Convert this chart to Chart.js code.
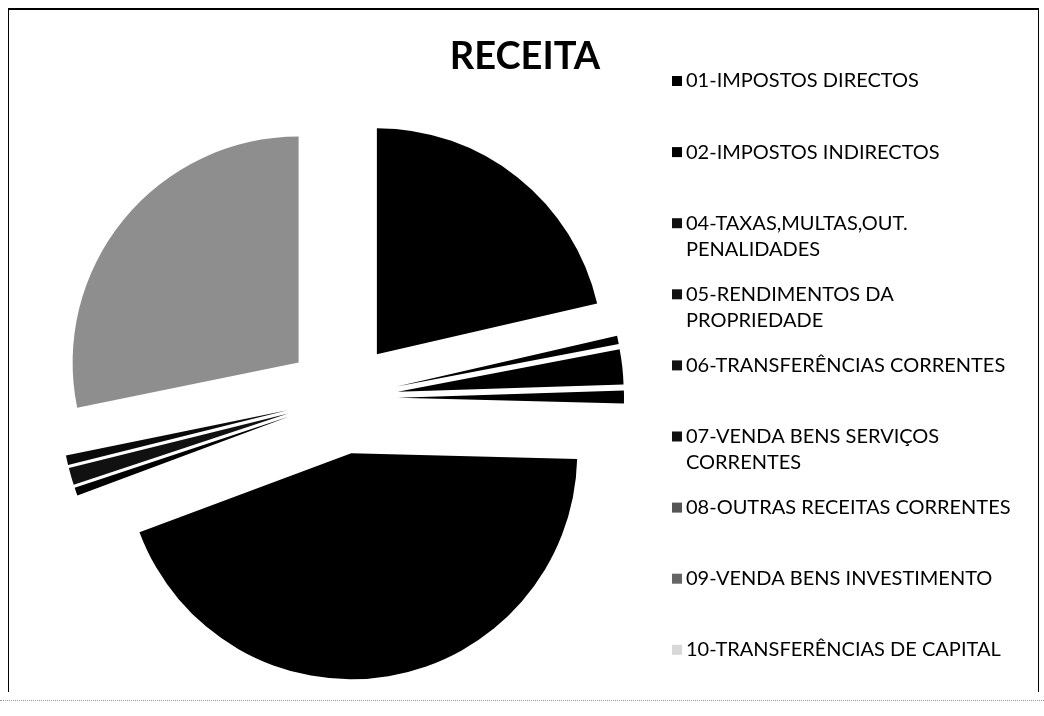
<!DOCTYPE html>
<html lang="pt">
<head>
<meta charset="UTF-8">
<title>Receita</title>
<script src="https://cdn.jsdelivr.net/npm/chart.js@4.4.1/dist/chart.umd.min.js"></script>
<style>
  html, body { margin: 0; padding: 0; background: #fff; overflow: hidden; }
  #wrap { position: relative; width: 1044px; height: 716px; }
  #frame { position: absolute; left: 8px; top: 8px; width: 1031px; height: 684px;
           border-top: 2px solid #000; border-left: 1px solid #000; border-right: 1px solid #000;
           box-sizing: border-box; }
  #base { position: absolute; left: 0; top: 700px; width: 1044px; border-top: 1px dotted #999; }
  canvas { position: absolute; left: 0; top: 0; }
</style>
</head>
<body>
<div id="wrap">
  <div id="frame"></div>
  <div id="base"></div>
  <canvas id="receitaChart" width="1044" height="716"></canvas>
</div>
<script>
// categorias (com as quebras de linha da legenda) e percentagens
const categorias = [
  ['01-IMPOSTOS DIRECTOS'],
  ['02-IMPOSTOS INDIRECTOS'],
  ['04-TAXAS,MULTAS,OUT.', 'PENALIDADES'],
  ['05-RENDIMENTOS DA', 'PROPRIEDADE'],
  ['06-TRANSFERÊNCIAS CORRENTES'],
  ['07-VENDA BENS SERVIÇOS', 'CORRENTES'],
  ['08-OUTRAS RECEITAS CORRENTES'],
  ['09-VENDA BENS INVESTIMENTO'],
  ['10-TRANSFERÊNCIAS DE CAPITAL']
];
const percentagens = [21.4, 0.58, 2.5, 0.92, 43.9, 0.58, 1.22, 0.67, 28.2];

const cores = ['#000', '#000', '#000', '#000', '#000', '#000', '#111', '#0a0a0a', '#8e8e8e'];
const coresLegenda = ['#000', '#000', '#111', '#111', '#111', '#111', '#555', '#666', '#d8d8d8'];

const RAIO = 226;
const DESLOCAMENTO = 224; // chart.js desloca offset/4

// o chart.js aumenta o raio e estreita o angulo das fatias destacadas;
// compensar para que todas fiquem com o raio e o angulo certos
const fatiasIguais = {
  id: 'fatiasIguais',
  afterDatasetUpdate(chart, args) {
    args.meta.data.forEach(arc => {
      const fix = 1 - Math.sin(Math.min(Math.PI, arc.circumference));
      const ro = (DESLOCAMENTO / 4) * fix;
      const ao = ro / (2 * Math.PI * RAIO);
      arc.outerRadius = RAIO - ro;
      arc.startAngle -= ao;
      arc.endAngle += ao;
    });
  }
};

// titulo e legenda na posicao do original
const legendaLateral = {
  id: 'legendaLateral',
  afterDraw(chart) {
    const ctx = chart.ctx;
    ctx.save();
    ctx.fillStyle = '#000';
    ctx.textBaseline = 'middle';
    ctx.textAlign = 'center';
    ctx.font = 'bold 38px Lato';
    ctx.fillText('RECEITA', 525, 57);

    ctx.textAlign = 'left';
    ctx.font = '20px Lato';
    chart.data.labels.forEach((linhas, i) => {
      const y = 81 + i * 71.1;
      ctx.fillStyle = coresLegenda[i];
      ctx.fillRect(672, y - 5, 10, 10);
      ctx.fillStyle = '#000';
      linhas.forEach((t, j) => ctx.fillText(t, 686, y + j * 26));
    });
    ctx.restore();
  }
};

new Chart(document.getElementById('receitaChart'), {
  type: 'pie',
  data: {
    labels: categorias,
    datasets: [{
      data: percentagens,
      backgroundColor: cores,
      borderWidth: 0,
      offset: DESLOCAMENTO,
      radius: RAIO
    }]
  },
  options: {
    responsive: false,
    animation: false,
    layout: { padding: { left: 0, right: 360, top: 80, bottom: 0 } },
    plugins: {
      legend: { display: false },
      tooltip: { enabled: false },
      title: { display: false }
    }
  },
  plugins: [fatiasIguais, legendaLateral]
});
</script>
</body>
</html>
